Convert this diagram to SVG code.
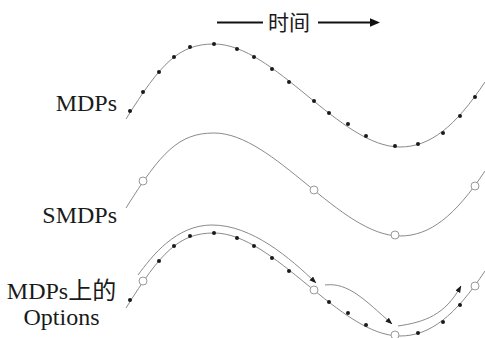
<svg xmlns="http://www.w3.org/2000/svg" xmlns:xlink="http://www.w3.org/1999/xlink" width="485" height="338" viewBox="0 0 485 338">
  <style>
    .curve { fill: none; stroke: #8a8a8a; stroke-width: 1; }
    .step { fill: #1a1a1a; }
    .hold { fill: #ffffff; stroke: #9a9a9a; stroke-width: 1; }
    .opt { fill: none; stroke: #8a8a8a; stroke-width: 1; marker-end: url(#tip); }
    .label { font-family: "Liberation Serif", "Noto Sans CJK SC", serif; font-size: 24px; fill: #1a1a1a; }
    .title { font-family: "Noto Sans CJK SC", "Liberation Serif", serif; font-size: 21px; fill: #1a1a1a; }
    .axis { stroke: #111111; stroke-width: 2; }
  </style>
  <defs>
    <!-- one period of the trajectory, reused for each row -->
    <path id="traj" d="M126,119 C161,63 179,44 214,44 C274,44 340,147 400,147 C430,147 455,127 485,82"/>
    <marker id="tip" viewBox="0 0 8 6" refX="7.5" refY="3" markerWidth="7" markerHeight="5.5" markerUnits="userSpaceOnUse" orient="auto">
      <path d="M0,0 L8,3 L0,6 Z" fill="#1a1a1a"/>
    </marker>
  </defs>

  <!-- time axis -->
  <g id="time-axis">
    <line class="axis" x1="217" y1="22.5" x2="263" y2="22.5"/>
    <text class="title" x="289" y="30" text-anchor="middle">时间</text>
    <line class="axis" x1="318" y1="22.5" x2="372" y2="22.5"/>
    <path d="M370,18.3 L380,22.5 L370,26.7 Z" fill="#111111"/>
  </g>

  <!-- row labels -->
  <g id="labels">
    <text class="label" x="117" y="111" text-anchor="end">MDPs</text>
    <text class="label" x="117" y="223" text-anchor="end">SMDPs</text>
    <text class="label" x="61.5" y="299" text-anchor="middle">MDPs上的</text>
    <text class="label" x="61.5" y="325" text-anchor="middle">Options</text>
  </g>

  <!-- MDPs: a decision at every small step -->
  <g id="mdps">
    <use xlink:href="#traj" class="curve"/>
    <g class="step">
      <circle cx="130" cy="111" r="2"/>
      <circle cx="143" cy="92" r="2"/>
      <circle cx="159" cy="72" r="2"/>
      <circle cx="174" cy="57" r="2"/>
      <circle cx="190" cy="47" r="2"/>
      <circle cx="214" cy="44" r="2"/>
      <circle cx="237" cy="49" r="2"/>
      <circle cx="254" cy="57" r="2"/>
      <circle cx="272" cy="69" r="2"/>
      <circle cx="289" cy="82" r="2"/>
      <circle cx="314" cy="101" r="2"/>
      <circle cx="329" cy="113" r="2"/>
      <circle cx="348" cy="124" r="2"/>
      <circle cx="366" cy="136" r="2"/>
      <circle cx="395" cy="146" r="2"/>
      <circle cx="418" cy="144" r="2"/>
      <circle cx="443" cy="133" r="2"/>
      <circle cx="460" cy="116" r="2"/>
      <circle cx="475" cy="97" r="2"/>
    </g>
  </g>

  <!-- SMDPs: decisions only at a few longer-interval points -->
  <g id="smdps" transform="translate(0,89)">
    <use xlink:href="#traj" class="curve"/>
    <circle class="hold" cx="143" cy="92" r="4"/>
    <circle class="hold" cx="314" cy="101" r="4"/>
    <circle class="hold" cx="395" cy="146" r="4"/>
    <circle class="hold" cx="475" cy="97" r="4"/>
  </g>

  <!-- Options over MDPs: fine steps plus option boundaries -->
  <g id="options" transform="translate(0,189)">
    <use xlink:href="#traj" class="curve"/>
    <g class="step">
      <circle cx="130" cy="111" r="2"/>
      <circle cx="159" cy="72" r="2"/>
      <circle cx="174" cy="57" r="2"/>
      <circle cx="190" cy="47" r="2"/>
      <circle cx="214" cy="44" r="2"/>
      <circle cx="237" cy="49" r="2"/>
      <circle cx="254" cy="57" r="2"/>
      <circle cx="272" cy="69" r="2"/>
      <circle cx="289" cy="82" r="2"/>
      <circle cx="329" cy="113" r="2"/>
      <circle cx="348" cy="124" r="2"/>
      <circle cx="366" cy="136" r="2"/>
      <circle cx="418" cy="144" r="2"/>
      <circle cx="443" cy="133" r="2"/>
      <circle cx="460" cy="116" r="2"/>
    </g>
    <circle class="hold" cx="143" cy="92" r="4"/>
    <circle class="hold" cx="314" cy="101" r="4"/>
    <circle class="hold" cx="395" cy="146" r="4"/>
    <circle class="hold" cx="475" cy="97" r="4"/>
  </g>

  <!-- option spans drawn as arrows between boundaries -->
  <g id="connectors">
    <path class="opt" d="M138,275 C152,256 176,225 212,225 C252,225 290,258 316,283"/>
    <path class="opt" d="M325,285 C348,282 365,300 392,324"/>
    <path class="opt" d="M398,326 C425,322 445,315 461,286"/>
  </g>
</svg>
